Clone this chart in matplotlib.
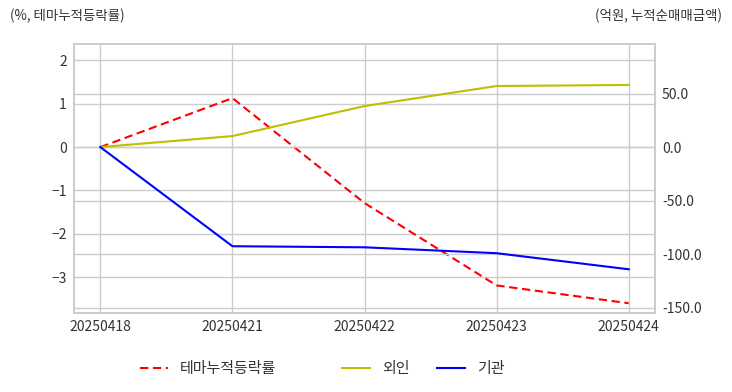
import matplotlib.pyplot as plt
import numpy as np

dates = ["20250418", "20250421", "20250422", "20250423", "20250424"]
theme_rate = [0.0, 1.13, -1.29, -3.19, -3.60]
foreign = [0.0, 10.3, 38.3, 57.0, 58.0]
institution = [0.0, -92.5, -93.5, -99.0, -114.0]

plt.rcParams['font.family'] = ['Noto Sans CJK KR', 'DejaVu Sans']
plt.rcParams['font.size'] = 10
txt = "#333333"
grid_c = "#cccccc"

fig = plt.figure(figsize=(7.32, 3.92), dpi=100)
ax1 = fig.add_axes([0.101, 0.201, 0.794, 0.687])
ax2 = ax1.twinx()

x = np.arange(len(dates))
l1, = ax1.plot(x, theme_rate, color="red", linestyle=(0, (4, 2.2)), linewidth=1.5, label="테마누적등락률")
l2, = ax2.plot(x, foreign, color="#bfbf00", linewidth=1.5, label="외인")
l3, = ax2.plot(x, institution, color="blue", linewidth=1.5, label="기관")

ax1.set_xlim(-0.2, 4.2)
ax1.set_ylim(-3.83, 2.38)
ax2.set_ylim(-155.0, 96.3)
ax1.set_xticks(x)
ax1.set_xticklabels(dates)
ax1.set_yticks([-3, -2, -1, 0, 1, 2])
ax2.set_yticks([-150, -100, -50, 0, 50])
ax2.set_yticklabels([f"{v:.1f}" for v in [-150, -100, -50, 0, 50]])

for ax in (ax1, ax2):
    ax.grid(True, color=grid_c, linewidth=1)
    ax.set_axisbelow(True)
    ax.tick_params(length=0, colors=txt, labelsize=10, pad=5)
    for s in ax.spines.values():
        s.set_color(grid_c)
        s.set_linewidth(1.2)
ax2.grid(True, axis="y", color=grid_c, linewidth=1)
ax2.xaxis.grid(False)

fig.text(10 / 732, 1 - 16 / 392, "(%, 테마누적등락률)", ha="left", va="center", color=txt, fontsize=9.7)
fig.text(722 / 732, 1 - 16 / 392, "(억원, 누적순매매금액)", ha="right", va="center", color=txt, fontsize=9.7)

leg1 = fig.legend(handles=[l1], loc="center", bbox_to_anchor=(208 / 732, 1 - 369 / 392),
                  frameon=False, fontsize=10.8, handlelength=1.9)
for t in leg1.get_texts():
    t.set_color(txt)
leg2 = fig.legend(handles=[l2, l3], loc="center", bbox_to_anchor=(423 / 732, 1 - 369 / 392),
                  ncol=2, frameon=False, fontsize=10.8, handlelength=1.9, columnspacing=1.8)
for t in leg2.get_texts():
    t.set_color(txt)

fig.savefig("out.png", dpi=100)
